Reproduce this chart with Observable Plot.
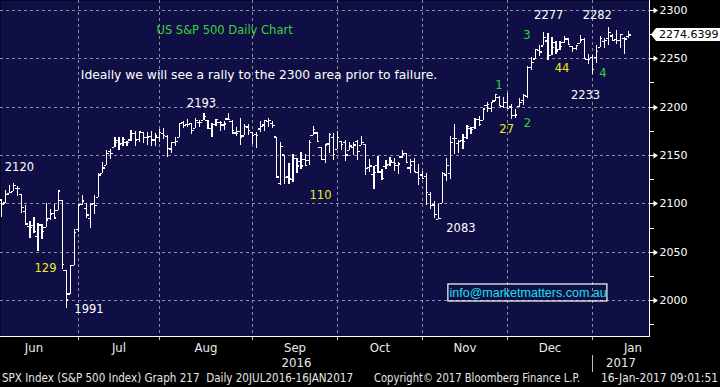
<!DOCTYPE html>
<html><head><meta charset="utf-8">
<script src="https://cdn.jsdelivr.net/npm/d3@7"></script>
<script src="https://cdn.jsdelivr.net/npm/@observablehq/plot@0.6"></script>
<style>
html,body{margin:0;padding:0;background:#000;overflow:hidden;}
#chart svg{display:block}
</style></head><body><div id="chart"></div>
<script>
// ---- data: SPX daily OHLC, Jun 2016 – 13 Jan 2017 ----
const dates = [
"2016-06-01","2016-06-02","2016-06-03","2016-06-06","2016-06-07","2016-06-08","2016-06-09","2016-06-10","2016-06-13","2016-06-14","2016-06-15","2016-06-16","2016-06-17","2016-06-20","2016-06-21","2016-06-22","2016-06-23","2016-06-24","2016-06-27","2016-06-28","2016-06-29","2016-06-30",
"2016-07-01","2016-07-05","2016-07-06","2016-07-07","2016-07-08","2016-07-11","2016-07-12","2016-07-13","2016-07-14","2016-07-15","2016-07-18","2016-07-19","2016-07-20","2016-07-21","2016-07-22","2016-07-25","2016-07-26","2016-07-27","2016-07-28","2016-07-29",
"2016-08-01","2016-08-02","2016-08-03","2016-08-04","2016-08-05","2016-08-08","2016-08-09","2016-08-10","2016-08-11","2016-08-12","2016-08-15","2016-08-16","2016-08-17","2016-08-18","2016-08-19","2016-08-22","2016-08-23","2016-08-24","2016-08-25","2016-08-26","2016-08-29","2016-08-30","2016-08-31",
"2016-09-01","2016-09-02","2016-09-06","2016-09-07","2016-09-08","2016-09-09","2016-09-12","2016-09-13","2016-09-14","2016-09-15","2016-09-16","2016-09-19","2016-09-20","2016-09-21","2016-09-22","2016-09-23","2016-09-26","2016-09-27","2016-09-28","2016-09-29","2016-09-30",
"2016-10-03","2016-10-04","2016-10-05","2016-10-06","2016-10-07","2016-10-10","2016-10-11","2016-10-12","2016-10-13","2016-10-14","2016-10-17","2016-10-18","2016-10-19","2016-10-20","2016-10-21","2016-10-24","2016-10-25","2016-10-26","2016-10-27","2016-10-28","2016-10-31",
"2016-11-01","2016-11-02","2016-11-03","2016-11-04","2016-11-07","2016-11-08","2016-11-09","2016-11-10","2016-11-11","2016-11-14","2016-11-15","2016-11-16","2016-11-17","2016-11-18","2016-11-21","2016-11-22","2016-11-23","2016-11-25","2016-11-28","2016-11-29","2016-11-30",
"2016-12-01","2016-12-02","2016-12-05","2016-12-06","2016-12-07","2016-12-08","2016-12-09","2016-12-12","2016-12-13","2016-12-14","2016-12-15","2016-12-16","2016-12-19","2016-12-20","2016-12-21","2016-12-22","2016-12-23","2016-12-27","2016-12-28","2016-12-29","2016-12-30",
"2017-01-03","2017-01-04","2017-01-05","2017-01-06","2017-01-09","2017-01-10","2017-01-11","2017-01-12","2017-01-13"];
const opens = [
2093.94,2097.71,2104.07,2100.83,2110.18,2112.71,2115.65,2109.57,2091.75,2076.65,2077.60,2066.36,2078.20,2075.58,2085.19,2089.75,2092.80,2103.81,2031.45,2006.67,2036.09,2073.17,
2099.34,2095.05,2084.43,2100.42,2106.97,2131.72,2139.50,2153.81,2157.88,2165.13,2162.04,2163.79,2166.10,2172.91,2166.47,2173.71,2168.97,2169.81,2166.05,2168.83,
2173.15,2169.94,2156.81,2163.51,2168.79,2183.76,2182.24,2182.81,2177.97,2183.74,2186.08,2186.24,2177.84,2181.90,2184.24,2181.58,2187.81,2185.09,2173.29,2175.10,2170.19,2179.45,2173.56,
2171.33,2177.49,2181.61,2185.17,2182.76,2169.08,2120.86,2150.47,2127.86,2125.36,2146.48,2143.99,2145.94,2144.58,2170.94,2173.29,2158.54,2146.04,2161.85,2168.90,2156.51,
2164.33,2163.37,2155.15,2158.22,2164.19,2160.39,2161.35,2137.67,2130.26,2139.68,2132.95,2138.31,2140.81,2142.51,2139.43,2148.50,2151.66,2136.97,2144.06,2132.23,2129.78,
2128.68,2109.43,2098.80,2083.79,2100.59,2129.92,2131.56,2167.49,2162.71,2165.64,2168.29,2177.53,2178.61,2186.85,2186.43,2201.56,2198.55,2206.27,2210.21,2200.76,2204.97,
2200.17,2191.12,2200.65,2207.26,2210.72,2241.13,2249.73,2258.83,2263.32,2268.35,2253.77,2266.81,2259.24,2266.50,2270.54,2262.93,2260.25,2266.23,2270.23,2249.50,2251.61,
2251.57,2261.60,2268.18,2271.14,2273.59,2269.72,2268.60,2271.14,2272.74];
const highs = [
2100.97,2105.26,2104.07,2113.36,2119.22,2120.55,2117.64,2109.57,2098.12,2081.30,2085.65,2079.62,2078.20,2100.66,2093.66,2099.71,2113.32,2103.81,2031.45,2036.09,2073.13,2098.94,
2108.71,2100.72,2100.72,2109.08,2131.71,2143.16,2155.40,2156.45,2169.05,2168.99,2168.35,2164.63,2175.63,2174.56,2175.11,2173.71,2173.54,2174.98,2172.85,2177.09,
2178.29,2170.20,2163.79,2168.19,2182.87,2185.44,2187.66,2183.41,2188.45,2186.28,2193.81,2186.24,2183.08,2187.03,2185.00,2185.15,2193.42,2186.66,2179.00,2187.94,2182.14,2182.27,2173.79,
2173.56,2184.87,2186.57,2187.87,2184.94,2169.08,2163.30,2150.47,2141.33,2151.31,2146.48,2153.61,2150.80,2165.11,2179.99,2173.75,2158.54,2161.13,2172.40,2172.67,2175.30,
2164.41,2165.46,2163.95,2162.93,2165.86,2169.60,2161.56,2145.36,2138.19,2149.19,2135.61,2144.38,2148.44,2147.18,2142.63,2154.79,2151.66,2145.73,2147.13,2140.72,2133.25,
2131.45,2111.76,2102.56,2099.07,2132.00,2146.87,2170.10,2182.30,2165.92,2171.36,2180.84,2179.22,2188.06,2189.89,2198.70,2204.80,2204.72,2213.35,2211.14,2210.46,2214.10,
2202.60,2197.95,2209.42,2212.78,2241.63,2251.69,2259.80,2264.03,2277.53,2276.20,2272.12,2268.05,2267.47,2272.56,2271.23,2263.18,2263.79,2273.82,2271.31,2254.51,2253.58,
2263.88,2272.82,2271.50,2282.10,2275.49,2279.27,2275.32,2271.78,2278.68];
const lows = [
2085.10,2088.59,2085.36,2100.83,2110.18,2112.71,2107.73,2089.96,2078.46,2064.10,2069.80,2050.37,2062.84,2075.58,2083.02,2084.36,2092.80,2032.57,1991.68,2006.67,2036.09,2070.00,
2097.90,2085.31,2074.02,2089.39,2106.97,2131.72,2139.50,2146.21,2157.88,2155.29,2159.07,2159.01,2164.89,2159.75,2163.24,2161.95,2160.18,2159.07,2159.74,2163.49,
2166.21,2147.58,2152.02,2159.07,2168.79,2177.85,2178.61,2172.00,2177.97,2179.42,2186.08,2178.14,2168.50,2180.46,2175.13,2175.96,2186.80,2171.25,2169.74,2160.39,2170.19,2170.41,2161.35,
2157.09,2173.59,2175.10,2179.07,2177.49,2127.81,2119.12,2120.27,2119.90,2122.36,2131.20,2135.91,2139.17,2139.57,2170.94,2163.97,2145.04,2141.55,2151.79,2145.20,2156.51,
2154.77,2144.01,2155.15,2150.28,2144.85,2160.39,2128.84,2132.77,2114.72,2132.98,2124.43,2135.49,2138.15,2133.44,2130.09,2146.91,2141.65,2131.59,2132.52,2119.36,2125.53,
2097.85,2094.00,2085.23,2083.79,2100.59,2123.56,2125.35,2151.17,2152.49,2156.08,2166.38,2172.20,2176.65,2180.38,2186.43,2194.51,2194.51,2206.27,2200.36,2198.15,2198.81,
2187.44,2188.37,2199.97,2202.21,2208.93,2237.57,2249.23,2252.37,2263.32,2248.44,2253.77,2254.24,2258.21,2266.14,2265.15,2256.08,2258.84,2266.15,2249.11,2244.56,2233.62,
2245.13,2261.60,2260.45,2264.06,2268.90,2265.27,2260.83,2254.25,2271.51];
const closes = [
2099.33,2105.26,2099.13,2109.41,2112.13,2119.12,2115.48,2096.07,2079.06,2075.32,2071.50,2077.99,2071.22,2083.25,2088.90,2085.45,2113.32,2037.41,2000.54,2036.09,2070.77,2098.86,
2102.95,2088.55,2099.73,2097.90,2129.90,2137.16,2152.14,2152.43,2163.75,2161.74,2166.89,2163.78,2173.02,2165.17,2175.03,2168.48,2169.18,2166.58,2170.06,2173.60,
2170.84,2157.03,2163.79,2164.25,2182.87,2180.89,2181.74,2175.49,2185.79,2184.05,2190.15,2178.15,2182.22,2187.02,2183.87,2182.64,2186.90,2175.44,2172.47,2169.04,2180.38,2176.12,2170.95,
2170.86,2179.98,2186.48,2186.16,2181.30,2127.81,2159.04,2127.02,2125.77,2147.26,2139.16,2139.12,2139.76,2163.12,2177.18,2164.69,2146.10,2159.93,2171.37,2151.13,2168.27,
2161.20,2150.49,2159.73,2160.77,2153.74,2163.66,2136.73,2139.18,2132.55,2132.98,2126.50,2139.60,2144.29,2141.34,2141.16,2151.33,2143.16,2139.43,2133.04,2126.41,2126.15,
2111.72,2097.94,2088.66,2085.18,2131.52,2139.56,2163.26,2167.48,2164.45,2164.20,2180.39,2176.94,2187.12,2181.90,2198.18,2202.94,2204.72,2213.35,2201.72,2204.66,2198.81,
2191.08,2191.95,2204.71,2212.23,2241.35,2246.19,2259.53,2256.96,2271.72,2253.28,2262.03,2258.07,2262.53,2270.76,2265.18,2260.96,2263.79,2268.88,2249.92,2249.26,2238.83,
2257.83,2270.75,2269.00,2276.98,2268.90,2268.90,2275.32,2270.44,2274.6399];

const monthNames = ["Jun","Jul","Aug","Sep","Oct","Nov","Dec","Jan"];
const monthTradingDays = [22,20,23,21,21,21,21,20];
const yearNames = ["2016","2017"];
const yTicks = [2000,2050,2100,2150,2200,2250,2300];
const yMinorTicks = [1975,2025,2075,2125,2175,2225,2275];

// annotations: label, position (bar index, price), colour
const WHITE = "#ffffff", YELLOW = "#eded1c", GREEN = "#2fd82f";
const annotations = [
  {t:"2120", i:6.4,   v:2138.1, c:WHITE},
  {t:"129",  i:12.85, v:2033.6, c:YELLOW},
  {t:"1991", i:23.6,  v:1990.7, c:WHITE},
  {t:"2193", i:51.4,  v:2203.8, c:WHITE},
  {t:"110",  i:80.8,  v:2108.9, c:YELLOW},
  {t:"2083", i:115.5, v:2074.5, c:WHITE},
  {t:"27",   i:126.8, v:2177.2, c:YELLOW},
  {t:"2",    i:131.9, v:2183.1, c:GREEN},
  {t:"1",    i:124.9, v:2222.4, c:GREEN},
  {t:"3",    i:131.8, v:2274.1, c:GREEN},
  {t:"2277", i:137.2, v:2294.8, c:WHITE},
  {t:"44",   i:140.5, v:2239.7, c:YELLOW},
  {t:"2282", i:149.2, v:2294.8, c:WHITE},
  {t:"4",    i:150.6, v:2234.5, c:GREEN},
  {t:"2233", i:146.3, v:2212.1, c:WHITE}
];
const titleNote = {t:"US S&P 500 Daily Chart", i:57.1, v:2279.3};
const commentNote = {t:"Ideally we will see a rally to the 2300 area prior to failure.", i:65.6, v:2232.8};
const emailNote = {t:"info@marketmatters.com.au", i:132.1, v:2007.8, i1:112.4, i2:151.7, v1:1999.0, v2:2016.6};
const footer = [
  {t:"SPX Index (S&P 500 Index) Graph 217  Daily 20JUL2016-16JAN2017", x:2, w:351},
  {t:"Copyright\u00A9 2017 Bloomberg Finance L.P.", x:374, w:206},
  {t:"16-Jan-2017 09:01:51", x:601, w:117}
];

// ---- derived tables ----
const bars = dates.map((d, i) => ({i, date: d, o: opens[i], h: highs[i], l: lows[i], c: closes[i]}));
let cum = -1;
const months = monthNames.map((m, k) => {
  const start = cum; cum += monthTradingDays[k];
  return {name: m, start, end: cum, mid: (start + cum) / 2};
});
const boundaries = months.slice(1).map(m => m.start);
const xDomain = [1.73, 162.1];
const yearBreak = months[months.length - 1].start;
const years = [
  {name: yearNames[0], mid: (xDomain[0] + yearBreak) / 2},
  {name: yearNames[1], mid: (yearBreak + xDomain[1]) / 2}
];

const NAVY = "#0f0f45";
const GRID = "#8e8e9c";
const FONT = "DejaVu Sans, Verdana, sans-serif";
const NARROW = "Liberation Sans Narrow, DejaVu Sans Condensed, Arial Narrow, sans-serif";
const lastClose = closes[closes.length - 1];

function chrome(index, scales, values, dimensions) {
  const {width, height, marginRight, marginBottom, marginTop, marginLeft} = dimensions;
  const xr = width - marginRight, yb = height - marginBottom;
  const g = d3.create("svg:g").attr("text-anchor", "start");
  // frame edges (bottom + right)
  g.append("path")
    .attr("d", `M${marginLeft},${yb + 0.5}H${xr + 0.5}V${marginTop}`)
    .attr("fill", "none").attr("stroke", "#fff").attr("stroke-width", 1).attr("shape-rendering", "crispEdges");
  // right axis arrows
  for (const v of yTicks) {
    const y = Math.round(scales.y(v)) + 0.5;
    g.append("path")
      .attr("d", `M${xr},${y - 0.6}h4.5v-2.4l4.5,3l-4.5,3v-2.4h-4.5z`)
      .attr("fill", "#fff");
  }
  for (const v of yMinorTicks) {
    const y = Math.round(scales.y(v)) + 0.5;
    g.append("line").attr("x1", xr).attr("x2", xr + 4.5).attr("y1", y).attr("y2", y)
      .attr("stroke", "#fff").attr("shape-rendering", "crispEdges");
  }
  // bottom month ticks
  for (const b of boundaries) {
    const x = Math.round(scales.x(b)) + 0.5;
    g.append("line").attr("x1", x).attr("x2", x).attr("y1", yb + 1).attr("y2", yb + 4)
      .attr("stroke", "#c8c8c8").attr("shape-rendering", "crispEdges");
  }
  // year separator
  const xs = Math.round(scales.x(yearBreak)) + 0.5;
  g.append("line").attr("x1", xs).attr("x2", xs).attr("y1", yb + 19).attr("y2", yb + 36)
    .attr("stroke", "#bdbdbd").attr("shape-rendering", "crispEdges");
  // last price label
  const yp = scales.y(lastClose);
  g.append("path")
    .attr("d", `M${xr + 2},${yp} L${xr + 7},${yp - 6.5} H${width} V${yp + 6.5} H${xr + 7} Z`)
    .attr("fill", "#fff");
  g.append("text").attr("x", xr + 10).attr("y", yp).attr("dy", "0.36em")
    .attr("text-anchor", "start")
    .attr("fill", "#000").attr("font-family", FONT).attr("font-size", 11)
    .text(lastClose.toFixed(4));
  // footer
  for (const f of footer) {
    g.append("text").attr("x", f.x).attr("y", height - 5)
      .attr("text-anchor", "start")
      .attr("fill", "#e6e6e6").attr("font-family", NARROW).attr("font-size", 11.5)
      .attr("textLength", f.w).attr("lengthAdjust", "spacingAndGlyphs")
      .text(f.t);
  }
  return g.node();
}

const chart = Plot.plot({
  width: 720,
  height: 387,
  marginLeft: 0,
  marginRight: 71,
  marginTop: 0,
  marginBottom: 51,
  x: {type: "linear", domain: xDomain, axis: null},
  y: {type: "linear", domain: [1962.8, 2310.3], axis: null},
  style: {background: "#000", color: "#fff", fontFamily: FONT, fontSize: "11px", overflow: "visible"},
  marks: [
    Plot.frame({fill: NAVY, stroke: "none"}),
    Plot.ruleY(yTicks, {y: d => d, stroke: GRID, strokeDasharray: "3,3", shapeRendering: "crispEdges"}),
    Plot.ruleX(boundaries, {x: d => d, stroke: GRID, strokeDasharray: "3,3", shapeRendering: "crispEdges"}),
    // OHLC bars
    Plot.ruleX(bars, {x: "i", y1: "l", y2: "h", stroke: "#fff", strokeWidth: 1.2, clip: true, shapeRendering: "crispEdges"}),
    Plot.ruleY(bars, {y: "o", x1: d => d.i - 0.6, x2: "i", stroke: "#fff", strokeWidth: 1.2, clip: true, shapeRendering: "crispEdges"}),
    Plot.ruleY(bars, {y: "c", x1: "i", x2: d => d.i + 0.6, stroke: "#fff", strokeWidth: 1.2, clip: true, shapeRendering: "crispEdges"}),
    // notes
    Plot.text([titleNote], {x: "i", y: "v", text: "t", fill: "#3ad23a", fontSize: 11.5}),
    Plot.text([commentNote], {x: "i", y: "v", text: "t", fill: "#fff", fontSize: 12.3}),
    Plot.text(annotations, {x: "i", y: "v", text: "t", fill: "c", fontSize: 11.5}),
    Plot.rect([emailNote], {x1: "i1", x2: "i2", y1: "v1", y2: "v2", fill: "none", stroke: "#fff", strokeWidth: 1.2}),
    Plot.text([emailNote], {x: "i", y: "v", text: "t", fill: "#18e0e8", fontSize: 12.5, fontFamily: "Liberation Sans, Arial, sans-serif"}),
    // right axis labels
    Plot.text(yTicks, {y: d => d, frameAnchor: "right", dx: 10, textAnchor: "start", text: d => String(d), fill: "#fff", fontSize: 11}),
    // month & year labels
    Plot.text(months, {x: "mid", frameAnchor: "bottom", dy: 15, lineAnchor: "bottom", text: "name", fill: "#ececec", fontSize: 13, fontFamily: NARROW}),
    Plot.text(years, {x: "mid", frameAnchor: "bottom", dy: 30, lineAnchor: "bottom", text: "name", fill: "#ececec", fontSize: 13, fontFamily: NARROW}),
    chrome
  ]
});
document.getElementById("chart").appendChild(chart);
</script>
</body></html>
